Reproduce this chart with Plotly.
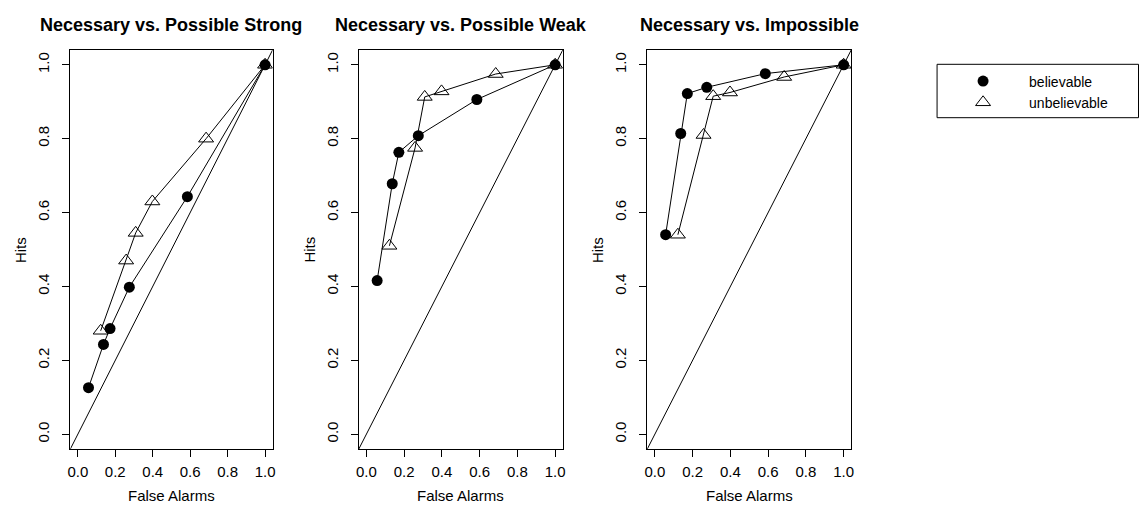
import plotly.graph_objects as go

# ---- data ----
panel_titles = ["Necessary vs. Possible Strong", "Necessary vs. Possible Weak", "Necessary vs. Impossible"]
series_names = ["believable", "unbelievable"]

fa_believable = [0.057, 0.137, 0.172, 0.275, 0.585, 1.0]
fa_unbelievable = [0.122, 0.258, 0.309, 0.398, 0.685, 1.0]

hits_strong_believable = [0.126, 0.243, 0.286, 0.398, 0.643, 1.0]
hits_strong_unbelievable = [0.280, 0.470, 0.545, 0.630, 0.800, 1.0]
hits_weak_believable = [0.416, 0.678, 0.763, 0.808, 0.906, 1.0]
hits_weak_unbelievable = [0.510, 0.775, 0.913, 0.928, 0.975, 1.0]
hits_imp_believable = [0.540, 0.814, 0.922, 0.939, 0.976, 1.0]
hits_imp_unbelievable = [0.540, 0.810, 0.915, 0.925, 0.967, 1.0]

tick_vals = [0.0, 0.2, 0.4, 0.6, 0.8, 1.0]
tick_text = ["0.0", "0.2", "0.4", "0.6", "0.8", "1.0"]
axis_range = [-0.04, 1.04]

panels = [
    (hits_strong_believable, hits_strong_unbelievable),
    (hits_weak_believable, hits_weak_unbelievable),
    (hits_imp_believable, hits_imp_unbelievable),
]

# ---- layout geometry ----
W, H = 1142, 505
FONT = "Liberation Sans, Arial, Helvetica, sans-serif"
x_domains = [(67.7, 271.0), (357.7, 562.7), (647.7, 852.7)]
y_top, y_bot = 50.0, 449.0

marker_styles = [
    dict(symbol="circle", size=11, color="black", line=dict(width=0)),
    dict(symbol="triangle-up-open", size=13, color="black", line=dict(width=1, color="black")),
]

fig = go.Figure()
annotations = []
shapes = []

for i, (hb, hu) in enumerate(panels):
    n = "" if i == 0 else str(i + 1)
    xa, ya = "x" + n, "y" + n
    for k, (fx, hy) in enumerate([(fa_believable, hb), (fa_unbelievable, hu)]):
        # connecting line
        fig.add_trace(go.Scatter(
            x=fx, y=hy, mode="lines", xaxis=xa, yaxis=ya, showlegend=False,
            hoverinfo="skip", line=dict(color="black", width=1),
        ))
        # points (legend shows symbols only)
        fig.add_trace(go.Scatter(
            x=fx, y=hy, mode="markers", name=series_names[k],
            xaxis=xa, yaxis=ya, showlegend=(i == 0), legendrank=k + 1,
            marker=marker_styles[k],
        ))
    # chance diagonal across the full plotting range
    shapes.append(dict(type="line", xref=xa, yref=ya,
                       x0=axis_range[0], y0=axis_range[0], x1=axis_range[1], y1=axis_range[1],
                       line=dict(color="black", width=1), layer="below"))

    x0, x1 = x_domains[i]
    common = dict(range=axis_range, tickvals=tick_vals, ticktext=tick_text,
                  showgrid=False, zeroline=False, showline=True, mirror=True,
                  linecolor="black", linewidth=1, ticks="outside", ticklen=7,
                  tickcolor="black", tickwidth=1,
                  tickfont=dict(family=FONT, size=15, color="black"))
    fig.layout["xaxis" + n] = dict(domain=[x0 / W, x1 / W], anchor=ya,
                                   ticklabelstandoff=2, **common)
    fig.layout["yaxis" + n] = dict(domain=[1 - y_bot / H, 1 - y_top / H], anchor=xa,
                                   tickangle=-90, ticklabelstandoff=7, **common)

    cx = (x0 + x1) / 2 / W
    annotations.append(dict(text="<b>" + panel_titles[i] + "</b>", x=cx, y=1 - 24.5 / H,
                            xref="paper", yref="paper", showarrow=False,
                            xanchor="center", yanchor="middle",
                            font=dict(family=FONT, size=18, color="black")))
    annotations.append(dict(text="False Alarms", x=cx, y=1 - 495 / H,
                            xref="paper", yref="paper", showarrow=False,
                            xanchor="center", yanchor="middle",
                            font=dict(family=FONT, size=15, color="black")))
    annotations.append(dict(text="Hits", x=(x0 - 50.5) / W, y=1 - 250 / H,
                            xref="paper", yref="paper", showarrow=False, textangle=-90,
                            xanchor="center", yanchor="middle",
                            font=dict(family=FONT, size=15, color="black")))

# legend frame
shapes.append(dict(type="rect", xref="paper", yref="paper",
                   x0=939 / W, x1=1141.5 / W, y0=1 - 117.7 / H, y1=1 - 64.3 / H,
                   line=dict(color="black", width=1), fillcolor="rgba(0,0,0,0)"))

fig.update_layout(
    width=W, height=H, autosize=False,
    margin=dict(l=0, r=0, t=0, b=0),
    paper_bgcolor="white", plot_bgcolor="white",
    shapes=shapes, annotations=annotations,
    legend=dict(x=939 / W, y=1 - 65.5 / H, xanchor="left", yanchor="top",
                borderwidth=0, bgcolor="rgba(0,0,0,0)",
                font=dict(family=FONT, size=14, color="black"),
                indentation=0, itemwidth=82, tracegroupgap=0),
)

fig.write_html("out.html")
